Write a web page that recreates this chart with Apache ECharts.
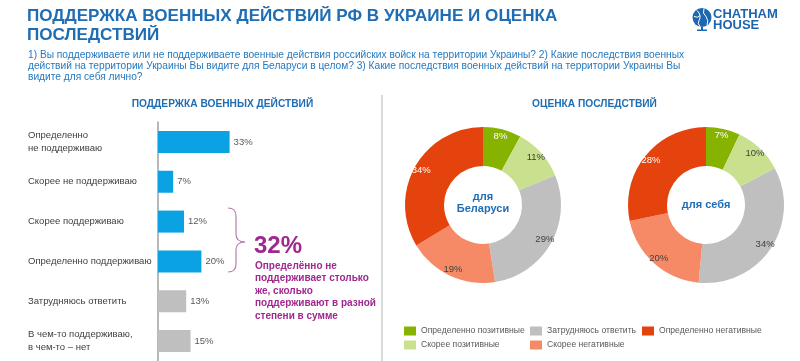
<!DOCTYPE html>
<html>
<head>
<meta charset="utf-8">
<script src="https://cdn.jsdelivr.net/npm/echarts@6/dist/echarts.min.js"></script>
<style>html,body{margin:0;padding:0;background:#fff}#c{width:800px;height:361px}</style>
</head>
<body>
<div id="c"></div>
<script>
// ---- data ----
var barCategories = ['Определенно\nне поддерживаю', 'Скорее не поддерживаю', 'Скорее поддерживаю', 'Определенно поддерживаю', 'Затрудняюсь ответить', 'В чем-то поддерживаю,\nв чем-то – нет'];
var barValues = [33, 7, 12, 20, 13, 15];
var supportedCount = 4; // first four answers are "support" scale answers (blue)

var segmentNames = ['Определенно позитивные', 'Скорее позитивные', 'Затрудняюсь ответить', 'Скорее негативные', 'Определенно негативные'];
var belarusValues = [8, 11, 29, 19, 34];
var selfValues = [7, 10, 34, 20, 28];

var highlightValue = '32%';

// ---- styles ----
var FONT = 'Arial, "Liberation Sans", sans-serif';
var BLUE_T = '#1f6db3';
var SUB = '#2479bf';
var PURPLE = '#a0278f';
var segColors = ['#86b300', '#c9e08f', '#bfbfbf', '#f68a66', '#e4430d'];
var segLabelColors = ['#ffffff', '#404040', '#404040', '#404040', '#ffffff'];

function pieData(vals, withLabel) {
  return segmentNames.map(function (n, i) {
    return {
      name: n, value: vals[i],
      itemStyle: { color: withLabel ? 'rgba(0,0,0,0)' : segColors[i] },
      label: { color: segLabelColors[i] }
    };
  });
}

function donut(center, vals) {
  return [{
    type: 'pie', center: center, radius: [39, 78], startAngle: 90, clockwise: true,
    silent: true, label: { show: false }, labelLine: { show: false },
    data: pieData(vals, false), animation: false
  }, {
    type: 'pie', center: center, radius: [58, 78], startAngle: 90, clockwise: true,
    silent: true, legendHoverLink: false,
    label: { show: true, position: 'inside', formatter: '{c}%', fontSize: 9.5, fontFamily: FONT },
    labelLine: { show: false },
    data: pieData(vals, true), animation: false
  }];
}

var BR = '#b77cb3';
function qc(x1, y1, cx, cy, x2, y2, color, w) {
  return { type: 'bezierCurve', shape: { x1: x1, y1: y1, cpx1: cx, cpy1: cy, x2: x2, y2: y2 }, style: { fill: 'none', stroke: color, lineWidth: w } };
}
function ln(x1, y1, x2, y2, color, w) {
  return { type: 'line', shape: { x1: x1, y1: y1, x2: x2, y2: y2 }, style: { stroke: color, lineWidth: w } };
}

var legendBase = {
  orient: 'vertical', top: 326, itemWidth: 12, itemHeight: 9, itemGap: 4, padding: 0, selectedMode: false,
  icon: 'rect', textStyle: { fontFamily: FONT, fontSize: 8.6, color: '#595959', lineHeight: 10 }
};
function legendAt(left, names) {
  var o = JSON.parse(JSON.stringify(legendBase));
  o.left = left; o.data = names; return o;
}

var chart = echarts.init(document.getElementById('c'));
var option = {
  backgroundColor: '#fff',
  animation: false,
  title: [{
    text: 'ПОДДЕРЖКА ВОЕННЫХ ДЕЙСТВИЙ РФ В УКРАИНЕ И ОЦЕНКА\nПОСЛЕДСТВИЙ',
    left: 27, top: 7, padding: 0,
    textStyle: { fontFamily: FONT, fontSize: 17.1, fontWeight: 'bold', color: BLUE_T, lineHeight: 19 }
  }, {
    text: '1) Вы поддерживаете или не поддерживаете военные действия российских войск на территории Украины? 2) Какие последствия военных\nдействий на территории Украины Вы видите для Беларуси в целом? 3) Какие последствия военных действий на территории Украины Вы\nвидите для себя лично?',
    left: 28, top: 50, padding: 0,
    textStyle: { fontFamily: FONT, fontSize: 10.2, fontWeight: 'normal', color: SUB, lineHeight: 11 }
  }, {
    text: 'ПОДДЕРЖКА ВОЕННЫХ ДЕЙСТВИЙ',
    left: 222.5, top: 99, padding: 0, textAlign: 'center',
    textStyle: { fontFamily: FONT, fontSize: 10.2, fontWeight: 'bold', color: BLUE_T }
  }, {
    text: 'ОЦЕНКА ПОСЛЕДСТВИЙ',
    left: 594.5, top: 99, padding: 0, textAlign: 'center',
    textStyle: { fontFamily: FONT, fontSize: 10.2, fontWeight: 'bold', color: BLUE_T }
  }],
  legend: [
    legendAt(404, [segmentNames[0], segmentNames[1]]),
    legendAt(530, [segmentNames[2], segmentNames[3]]),
    legendAt(642, [segmentNames[4]])
  ],
  grid: { left: 158, top: 122, width: 217, height: 240 },
  xAxis: { type: 'value', min: 0, max: 100, show: false },
  yAxis: {
    type: 'category', inverse: true, data: barCategories,
    axisLine: { show: true, lineStyle: { color: '#a0a0a0', width: 1.5 } },
    axisTick: { show: false },
    axisLabel: { align: 'left', margin: 130, fontFamily: FONT, fontSize: 9.5, color: '#404040', lineHeight: 13 }
  },
  series: [{
    type: 'bar', data: barValues, barWidth: 22, silent: true,
    itemStyle: { color: function (p) { return p.dataIndex < supportedCount ? '#0ba2e3' : '#bfbfbf'; } },
    label: { show: true, position: 'right', distance: 4, formatter: '{c}%', fontFamily: FONT, fontSize: 9.5, color: '#595959' }
  }].concat(donut([483, 205], belarusValues)).concat(donut([706, 205], selfValues)),
  graphic: [
    { type: 'rect', shape: { x: 381, y: 95, width: 2, height: 266 }, style: { fill: '#d9d9d9' } },
    qc(228, 208, 236, 208, 236, 216, BR, 1.2),
    ln(236, 216, 236, 234, BR, 1.2),
    qc(236, 234, 236, 242, 245, 242, BR, 1.2),
    qc(245, 242, 236, 242, 236, 250, BR, 1.2),
    ln(236, 250, 236, 264, BR, 1.2),
    qc(236, 264, 236, 272, 228, 272, BR, 1.2),
    { type: 'text', left: 254, top: 234.5, style: { text: highlightValue, font: 'bold 24px ' + FONT, fill: PURPLE } },
    { type: 'text', left: 255, top: 259.5, style: { text: 'Определённо не\nподдерживает столько\nже, сколько\nподдерживают в разной\nстепени в сумме', font: 'bold 10px ' + FONT, fill: PURPLE, lineHeight: 12.6 } },
    { type: 'text', x: 483, y: 203, style: { text: 'для\nБеларуси', font: 'bold 11px ' + FONT, fill: BLUE_T, align: 'center', verticalAlign: 'middle', lineHeight: 12 } },
    { type: 'text', x: 706, y: 205, style: { text: 'для себя', font: 'bold 11px ' + FONT, fill: BLUE_T, align: 'center', verticalAlign: 'middle' } },
    // logo
    { type: 'circle', shape: { cx: 702, cy: 17.5, r: 9.5 }, style: { fill: '#1d68b3' } },
    qc(697, 10.5, 702, 15.5, 699, 20.5, '#ffffff', 1),
    qc(699, 20.5, 697, 23.5, 700, 26.5, '#ffffff', 1),
    qc(704, 8.5, 702, 13.5, 706, 16.5, '#ffffff', 1),
    qc(706, 16.5, 709, 20.5, 707, 25.5, '#ffffff', 1),
    qc(694, 16.5, 698, 18.5, 700, 15.5, '#ffffff', 1),
    { type: 'rect', shape: { x: 701, y: 27, width: 2, height: 3 }, style: { fill: '#1d68b3' } },
    { type: 'rect', shape: { x: 697, y: 29.5, width: 10, height: 1.5 }, style: { fill: '#1d68b3' } },
    { type: 'text', left: 713, top: 7.5, style: { text: 'CHATHAM', font: 'bold 13px ' + FONT, fill: '#1d64ae' } },
    { type: 'text', left: 713, top: 19, style: { text: 'HOUSE', font: 'bold 13px ' + FONT, fill: '#1d64ae' } }
  ]
};
chart.setOption(option);
</script>
</body>
</html>
